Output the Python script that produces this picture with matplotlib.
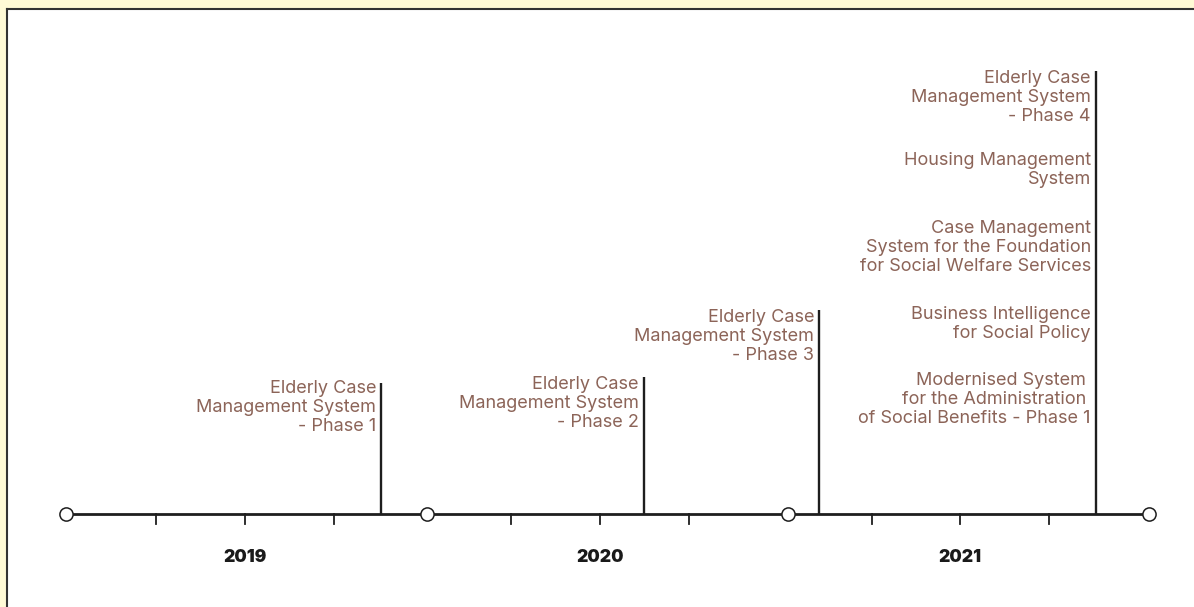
import matplotlib.pyplot as plt
import matplotlib.patches as mpatches

plt.rcParams['font.family'] = ['Inter', 'DejaVu Sans']

# ---------------- data ----------------
years = [2019, 2020, 2021]
start_year = 2019
end_year = 2022
year_label_pos = [2019.496, 2020.479, 2021.476]
tick_pos = [2019.249, 2019.496, 2019.742,
            2020.233, 2020.479, 2020.726,
            2021.233, 2021.476, 2021.723]

event_dates = [2019.873, 2020.601, 2021.086, 2021.853]
stem_heights = [131, 137, 204, 443]

label_dates = [2019.873, 2020.601, 2021.086,
               2021.853, 2021.853, 2021.853, 2021.853, 2021.853]
label_tops = [131, 135, 202, 441, 359, 291, 205, 139]
label_texts = [
    'Elderly Case\nManagement System\n- Phase 1',
    'Elderly Case\nManagement System\n- Phase 2',
    'Elderly Case\nManagement System\n- Phase 3',
    'Elderly Case\nManagement System\n- Phase 4',
    'Housing Management\nSystem',
    'Case Management\nSystem for the Foundation\nfor Social Welfare Services',
    'Business Intelligence\nfor Social Policy',
    'Modernised System \nfor the Administration \nof Social Benefits - Phase 1',
]

# ---------------- figure ----------------
W, H = 1194, 607
px_per_year = 361.0
x0_px = 66
base_px = 514

fig = plt.figure(figsize=(W / 100, H / 100), dpi=100)
fig.patch.set_facecolor('#fffad6')

# white panel with dark top/left border
panel = mpatches.Rectangle((7 / W, 0), 1, 1 - 9 / H, transform=fig.transFigure,
                           facecolor='white', edgecolor='none', zorder=-5)
fig.add_artist(panel)
fig.add_artist(plt.Line2D([7 / W, 1], [1 - 9 / H, 1 - 9 / H], transform=fig.transFigure,
                          color='#333333', lw=1.5, zorder=-4))
fig.add_artist(plt.Line2D([7 / W, 7 / W], [0, 1 - 9 / H], transform=fig.transFigure,
                          color='#333333', lw=1.5, zorder=-4))

ax = fig.add_axes([0, 0, 1, 1])
ax.set_xlim(start_year - x0_px / px_per_year, start_year + (W - x0_px) / px_per_year)
ax.set_ylim(-(H - base_px), base_px)
ax.axis('off')

line_col = '#1e1e1e'
text_col = '#8c6458'

# main timeline
ax.plot([start_year, end_year], [0, 0], color=line_col, lw=2.0, zorder=2, solid_capstyle='butt')

# ticks
for t in tick_pos:
    ax.plot([t, t], [0, -10], color=line_col, lw=1.3, zorder=2)
for y, xp in zip(years, year_label_pos):
    ax.text(xp, -44, str(y), ha='center', va='center', fontsize=12.5,
            fontweight='black', color='#1a1a1a')

# year boundary circles
for y in range(start_year, end_year + 1):
    ax.plot(y, 0, marker='o', ms=9.5, mfc='white', mec=line_col, mew=1.1, zorder=4)

# event stems
for d, h in zip(event_dates, stem_heights):
    ax.plot([d, d], [0, h], color=line_col, lw=1.7, zorder=3, solid_capstyle='butt')

# labels
dx = 5 / px_per_year
for d, top, txt in zip(label_dates, label_tops, label_texts):
    ax.text(d - dx, top + 3, txt, ha='right', va='top', fontsize=13,
            color=text_col, linespacing=1.17)

fig.savefig('out.png', dpi=100, facecolor=fig.get_facecolor())
